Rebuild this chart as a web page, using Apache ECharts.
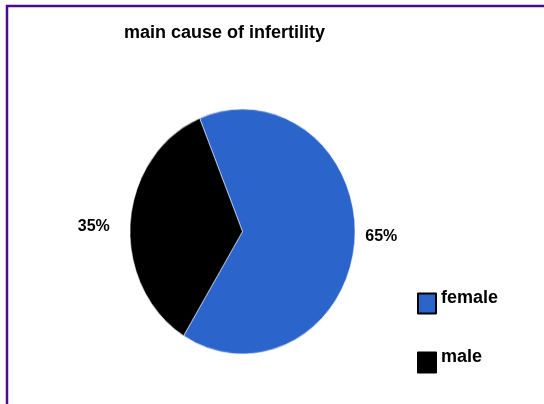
<!DOCTYPE html>
<html>
<head>
<meta charset="utf-8">
<script src="https://cdn.jsdelivr.net/npm/echarts@6/dist/echarts.min.js"></script>
<style>
  html, body { margin: 0; padding: 0; background: #fff; }
  #stage { position: relative; width: 544px; height: 404px; overflow: hidden; }
  #base, #disc { position: absolute; left: 0; top: 0; width: 544px; height: 404px; }
  /* the pie itself is drawn slightly taller than wide */
  #disc { transform: scaleY(1.0889); transform-origin: 0 231.5px; pointer-events: none; }
</style>
</head>
<body>
<div id="stage">
  <div id="base"></div>
  <div id="disc"></div>
</div>
<script>
const titleText = 'main cause of infertility';
const causes = ['female', 'male'];
const shares = [65, 35];
const sliceColors = ['#2b65cc', '#000000'];

const FONT = 'Liberation Sans, Arial, sans-serif';
const PIE_CENTER = [242.5, 231.5];
const PIE_RADIUS = 112.5;
const START_ANGLE = 112.4;
// small vertical nudges for the percentage labels (female, male)
const LABEL_NUDGE = [-4, 4];

function pieData(withLabels) {
  return causes.map((name, i) => {
    const item = { name: name, value: shares[i], itemStyle: { color: sliceColors[i] } };
    if (withLabels) {
      item.labelLine = { show: false, length: 0, length2: i === 0 ? 5.6 : 15.6 };
    }
    return item;
  });
}

// Base layer: frame, title, legend and percentage labels
const base = echarts.init(document.getElementById('base'), null, { renderer: 'canvas' });
base.setOption({
  animation: false,
  backgroundColor: '#ffffff',
  title: {
    text: titleText,
    left: 124,
    top: 24,
    padding: 0,
    textStyle: { fontSize: 18, fontWeight: 'bold', color: '#000', fontFamily: FONT }
  },
  legend: {
    orient: 'vertical',
    left: 417,
    top: 289.5,
    padding: 0,
    itemWidth: 18,
    itemHeight: 20,
    itemGap: 34,
    icon: 'rect',
    selectedMode: false,
    itemStyle: { borderColor: '#000', borderWidth: 2, opacity: 1 },
    formatter: '{t|{name}}',
    textStyle: {
      fontSize: 18, fontWeight: 'bold', color: '#000', fontFamily: FONT,
      rich: { t: { fontSize: 18, fontWeight: 'bold', color: '#000', fontFamily: FONT, padding: [0, 0, 10, 0] } }
    },
    data: causes
  },
  graphic: [{
    type: 'rect',
    silent: true,
    shape: { x: 7, y: 6, width: 620, height: 480 },
    style: { fill: 'none', stroke: '#4a0a8c', lineWidth: 2.5 }
  }],
  series: [{
    type: 'pie',
    center: PIE_CENTER,
    radius: PIE_RADIUS,
    startAngle: START_ANGLE,
    clockwise: true,
    silent: true,
    avoidLabelOverlap: false,
    label: {
      show: true,
      position: 'outside',
      formatter: '{c}%',
      fontSize: 16,
      fontWeight: 'bold',
      color: '#000',
      fontFamily: FONT
    },
    labelLine: { show: false },
    labelLayout: function (params) {
      return { dy: LABEL_NUDGE[params.dataIndex] };
    },
    emphasis: { disabled: true },
    data: pieData(true)
  }]
});

// Top layer: the filled slices
const disc = echarts.init(document.getElementById('disc'), null, { renderer: 'canvas' });
disc.setOption({
  animation: false,
  backgroundColor: 'transparent',
  series: [{
    type: 'pie',
    center: PIE_CENTER,
    radius: PIE_RADIUS,
    startAngle: START_ANGLE,
    clockwise: true,
    silent: true,
    label: { show: false },
    labelLine: { show: false },
    itemStyle: { borderColor: '#ffffff', borderWidth: 0.6 },
    emphasis: { disabled: true },
    data: pieData(false)
  }]
});
</script>
</body>
</html>
